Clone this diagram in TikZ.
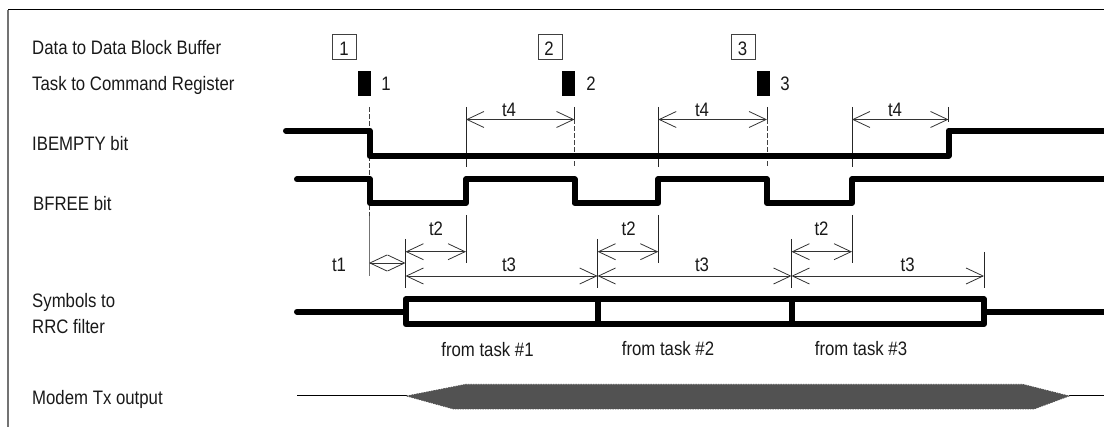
\documentclass[tikz,border=0pt]{standalone}
\usepackage{fontspec}
\setmainfont[FakeStretch=0.86]{Liberation Sans}
\usetikzlibrary{arrows.meta}
\tikzset{
  lbl/.style={inner sep=0pt,anchor=base,font=\fontsize{19.5}{21}\selectfont,text=black!90},
  leftlbl/.style={lbl,anchor=base west},
  numbox/.style={draw=black!75,line width=.8pt,minimum width=24pt,minimum height=25pt,inner sep=0pt},
  taskbar/.style={fill=black,inner sep=0pt,minimum width=13pt,minimum height=25pt},
  wave/.style={line width=6pt,line join=round,line cap=round},
  guide/.style={line width=.8pt,black!85},
  dguide/.style={line width=.8pt,black!75,dash pattern=on 5pt off 2pt},
  dim/.style={line width=.8pt,black!80,{Straight Barb[length=17pt,width=16pt,line width=.8pt]}-{Straight Barb[length=17pt,width=16pt,line width=.8pt]}},
}
\begin{document}
\begin{tikzpicture}[x=1pt,y=-1pt]
\useasboundingbox (0,0) rectangle (1104,427);
% frame
\coordinate (fa) at (8,427); \coordinate (fb) at (8,10); \coordinate (fc) at (1104,10);
\draw[line width=1.5pt,black!55] (fa) -- (fb);
\draw[line width=1pt,black] (fb) -- (fc);
% left labels
\node[leftlbl] (ldata) at (32,54.3) {Data to Data Block Buffer};
\node[leftlbl] (ltask) at (32,90.7) {Task to Command Register};
\node[leftlbl] (libe) at (32,151) {IBEMPTY bit};
\node[leftlbl] (lbf) at (33,211) {BFREE bit};
\node[leftlbl] (lsym) at (32,307.7) {Symbols to};
\node[leftlbl] (lrrc) at (32,333.3) {RRC filter};
\node[leftlbl] (lmod) at (32,405) {Modem Tx output};
% boxes and bars
\node[numbox] (b1) at (344.7,46.5) {};
\node[numbox] (b2) at (550,46.5) {};
\node[numbox] (b3) at (743.5,46.5) {};
\node[lbl] (bn1) at (344,56) {1};
\node[lbl] (bn2) at (549,56) {2};
\node[lbl] (bn3) at (742.5,56) {3};
\node[taskbar] (k1) at (364.2,83.5) {};
\node[taskbar] (k2) at (568.5,83.5) {};
\node[taskbar] (k3) at (763,83.5) {};
\node[lbl] (n1) at (386,90.7) {1};
\node[lbl] (n2) at (591,90.7) {2};
\node[lbl] (n3) at (785,90.7) {3};
% guides
\coordinate (g1a) at (369,107); \coordinate (g1b) at (369,216); \coordinate (g1c) at (369,276);
\coordinate (g2a) at (466,107); \coordinate (g2b) at (466,167); \coordinate (g2c) at (466,215); \coordinate (g2d) at (466,263);
\coordinate (g3a) at (574.5,107); \coordinate (g3m) at (574.5,119.5); \coordinate (g3b) at (574.5,167);
\coordinate (g4a) at (658.3,107); \coordinate (g4b) at (658.3,167); \coordinate (g4c) at (658.3,215); \coordinate (g4d) at (658.3,263);
\coordinate (g5a) at (767,107); \coordinate (g5m) at (767,119.5); \coordinate (g5b) at (767,167);
\coordinate (g6a) at (852,107); \coordinate (g6b) at (852,167); \coordinate (g6c) at (852,215); \coordinate (g6d) at (852,263);
\coordinate (g7a) at (948.5,107); \coordinate (g7b) at (948.5,122);
\draw[dguide] (g1a) -- (g1b);
\draw[line width=1pt,black!55] (g1b) -- (g1c);
\draw[guide] (g2a) -- (g2b); \draw[guide] (g2c) -- (g2d);
\draw[guide] (g3a) -- (g3m); \draw[dguide] (g3m) -- (g3b);
\draw[guide] (g4a) -- (g4b); \draw[guide] (g4c) -- (g4d);
\draw[guide] (g5a) -- (g5m); \draw[dguide] (g5m) -- (g5b);
\draw[guide] (g6a) -- (g6b); \draw[guide] (g6c) -- (g6d);
\draw[guide] (g7a) -- (g7b);
\coordinate (h1a) at (405.5,239); \coordinate (h1b) at (405.5,288);
\coordinate (h2a) at (597.6,239); \coordinate (h2b) at (597.6,288);
\coordinate (h3a) at (791.5,239); \coordinate (h3b) at (791.5,288);
\coordinate (h4a) at (984,252); \coordinate (h4b) at (984,288);
\foreach \h in {1,2,3,4} \draw[guide] (h\h a) -- (h\h b);
% t4
\foreach \i/\a/\b in {1/466/574.5,2/658.3/767,3/852/948.5}{
  \coordinate (t4l\i) at (\a,119.5); \coordinate (t4r\i) at (\b,119.5);
  \draw[dim] (t4l\i) -- (t4r\i);
}
\node[lbl] (t4a) at (509,116.3) {t4};
\node[lbl] (t4b) at (702,116.3) {t4};
\node[lbl] (t4c) at (895,116.3) {t4};
% t2
\foreach \i/\a/\b in {1/405.5/466,2/597.6/658.3,3/791.5/852}{
  \coordinate (t2l\i) at (\a,251.7); \coordinate (t2r\i) at (\b,251.7);
  \draw[dim] (t2l\i) -- (t2r\i);
}
\node[lbl] (t2a) at (436,236) {t2};
\node[lbl] (t2b) at (628.6,236) {t2};
\node[lbl] (t2c) at (821.5,236) {t2};
% t3
\foreach \i/\a/\b in {1/405.5/597.6,2/597.6/791.5,3/791.5/984}{
  \coordinate (t3l\i) at (\a,276); \coordinate (t3r\i) at (\b,276);
  \draw[dim] (t3l\i) -- (t3r\i);
}
\node[lbl] (t3a) at (509,271.7) {t3};
\node[lbl] (t3b) at (702,271.7) {t3};
\node[lbl] (t3c) at (907.6,271.7) {t3};
% t1
\coordinate (t1l) at (369,263); \coordinate (t1r) at (405.5,263);
\draw[dim] (t1l) -- (t1r);
\node[lbl] (t1a) at (339,271.7) {t1};
% waves
\draw[wave] (286,130.7) -- (369.5,130.7) -- (369.5,155.7) -- (948.5,155.7) -- (948.5,130.7) -- (1110,130.7);
\draw[wave] (297,179.3) -- (370,179.3) -- (370,203) -- (466,203) -- (466,179.3) -- (574.5,179.3) -- (574.5,203) -- (658.3,203) -- (658.3,179.3) -- (767,179.3) -- (767,203) -- (852,203) -- (852,179.3) -- (1110,179.3);
\draw[wave] (297,311.7) -- (405.7,311.7);
\draw[wave] (405.7,299.3) rectangle (984,324);
\draw[wave,line cap=butt] (597.8,299.3) -- (597.8,324);
\draw[wave,line cap=butt] (791.5,299.3) -- (791.5,324);
\draw[wave] (984,311.7) -- (1110,311.7);
\node[lbl] (f1) at (487.5,356.7) {from task \#1};
\node[lbl] (f2) at (668,355.7) {from task \#2};
\node[lbl] (f3) at (861,355.7) {from task \#3};
% modem
\coordinate (m0) at (297,396); \coordinate (ml) at (406.5,396); \coordinate (mr) at (1069,396); \coordinate (m9) at (1104,396);
\draw[line width=1pt] (m0) -- (ml);
\draw[line width=1pt] (mr) -- (m9);
\fill[black!68,draw=black!68,line width=.8pt,dash pattern=on 1.5pt off 1pt]
  (ml) -- (466,384.3) -- (1022.6,384.3) -- (mr) -- (1034,409) -- (453.6,409) -- cycle;
\end{tikzpicture}
\end{document}
